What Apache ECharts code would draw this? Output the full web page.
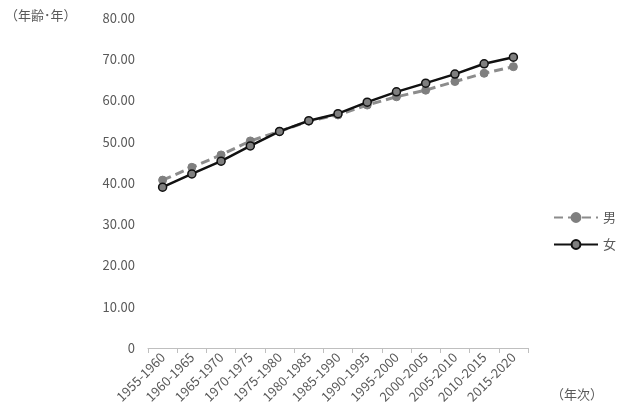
<!DOCTYPE html>
<html><head><meta charset="utf-8">
<script src="https://cdn.jsdelivr.net/npm/echarts@6/dist/echarts.min.js"></script>
<style>html,body{margin:0;padding:0;background:#fff}#c{width:618px;height:416px}</style>
</head><body><div id="c"></div>
<script>
const categories = ['1955-1960','1960-1965','1965-1970','1970-1975','1975-1980','1980-1985','1985-1990','1990-1995','1995-2000','2000-2005','2005-2010','2010-2015','2015-2020'];
const male = [40.7, 43.8, 46.8, 50.2, 52.5, 55.0, 56.5, 58.9, 60.9, 62.5, 64.6, 66.6, 68.2];
const female = [39.0, 42.2, 45.3, 49.0, 52.5, 55.1, 56.8, 59.6, 62.1, 64.2, 66.4, 68.9, 70.5];
const yTicks = [0, 10, 20, 30, 40, 50, 60, 70, 80];

const font = '"Noto Sans CJK JP", "Noto Sans", sans-serif';
const chart = echarts.init(document.getElementById('c'));
chart.setOption({
  animation: false,
  backgroundColor: '#fff',
  grid: { left: 148, right: 90, top: 18, bottom: 68 },
  legend: {
    orient: 'vertical', left: 548, top: 206, itemGap: 14,
    itemWidth: 44, itemHeight: 11,
    textStyle: { color: '#595959', fontSize: 13, fontFamily: font },
    data: ['男', '女']
  },
  xAxis: {
    type: 'category', data: categories, boundaryGap: true,
    axisLine: { lineStyle: { color: '#bfbfbf' } },
    axisTick: { show: true, lineStyle: { color: '#bfbfbf' }, length: 5 },
    axisLabel: { rotate: 45, color: '#595959', fontSize: 13, fontFamily: font, margin: 7, interval: 0 }
  },
  yAxis: {
    type: 'value', min: yTicks[0], max: yTicks[yTicks.length - 1], interval: 10,
    axisLine: { show: false }, axisTick: { show: false }, splitLine: { show: false },
    axisLabel: { color: '#595959', fontSize: 13, fontFamily: font, margin: 13,
      formatter: v => v === 0 ? '0' : v.toFixed(2) }
  },
  graphic: [{
    type: 'text', left: 5, top: 9,
    style: { text: '（年齢･年）', fill: '#595959', fontSize: 13, fontFamily: font }
  }, {
    type: 'text', left: 551, top: 388,
    style: { text: '（年次）', fill: '#595959', fontSize: 13, fontFamily: font }
  }],
  series: [
    { name: '男', type: 'line', data: male, symbol: 'circle', symbolSize: 8,
      lineStyle: { color: '#8c8c8c', width: 3, type: [9, 5] },
      itemStyle: { color: '#7f7f7f', borderColor: '#7f7f7f', borderWidth: 1 }, z: 2 },
    { name: '女', type: 'line', data: female, symbol: 'circle', symbolSize: 8,
      lineStyle: { color: '#111', width: 2.5 },
      itemStyle: { color: '#7f7f7f', borderColor: '#111', borderWidth: 1.5 }, z: 3 }
  ]
});
</script></body></html>
